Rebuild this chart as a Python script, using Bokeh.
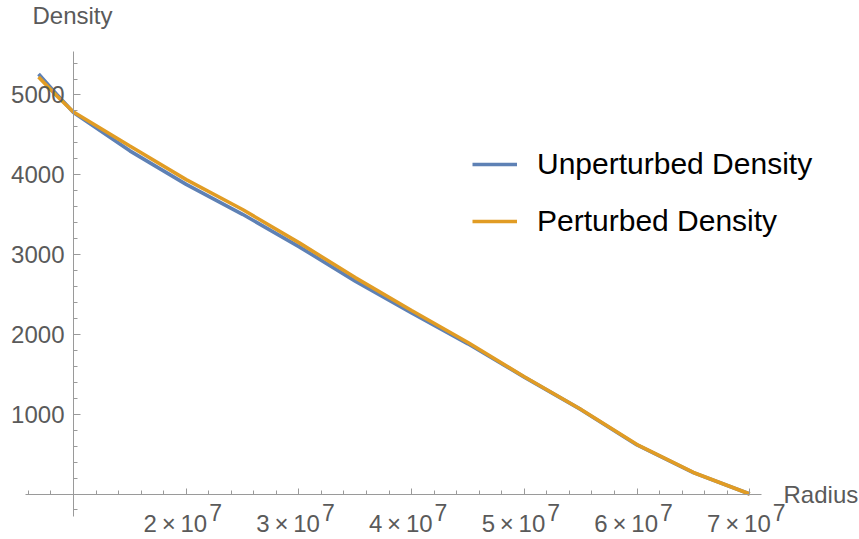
from bokeh.plotting import figure
from bokeh.models import FixedTicker, Legend, LegendItem, Label, Range1d
from bokeh.embed import file_html
from bokeh.resources import INLINE
import numpy as np

# ---- data ----
radius = [0.69e7, 0.85e7, 1.0e7, 1.5e7, 2.0e7, 2.5e7, 3.0e7, 3.5e7, 4.0e7,
          4.5e7, 5.0e7, 5.5e7, 6.0e7, 6.5e7, 7.0e7]
unperturbed = [5263, 5010, 4780, 4300, 3880, 3505, 3100, 2668, 2268,
               1882, 1465, 1060, 615, 268, 0]
perturbed = [5226, 4990, 4787, 4360, 3940, 3565, 3150, 2712, 2300,
             1898, 1470, 1062, 620, 270, 0]

x_major = [2e7, 3e7, 4e7, 5e7, 6e7, 7e7]
x_tick_base = ["2\u2009×\u200910", "3\u2009×\u200910", "4\u2009×\u200910",
               "5\u2009×\u200910", "6\u2009×\u200910", "7\u2009×\u200910"]
x_tick_exp = ["7", "7", "7", "7", "7", "7"]
y_major = [1000, 2000, 3000, 4000, 5000]
y_tick_labels = ["1000", "2000", "3000", "4000", "5000"]

BLUE = "#5E81B5"
ORANGE = "#E19C24"
AXIS = "#9a9a9a"
TICKTXT = "#5a5a5a"
FONT = "Liberation Sans"

p = figure(width=859, height=539, output_backend="svg", toolbar_location=None,
           x_range=Range1d(0.3523e7, 7.974e7), y_range=Range1d(-570, 6184),
           min_border_left=0, min_border_top=0, min_border_right=0,
           min_border_bottom=0)
p.outline_line_color = None
p.xgrid.visible = False
p.ygrid.visible = False
p.background_fill_color = "white"
p.border_fill_color = "white"

r1 = p.line(radius, unperturbed, line_color=BLUE, line_width=3.6)
r2 = p.line(radius, perturbed, line_color=ORANGE, line_width=3.6)

# axes crossing at (1e7, 0)
xa = p.xaxis[0]
xa.fixed_location = 0
xa.bounds = (0.5752e7, 7.106e7)
xa.ticker = FixedTicker(ticks=x_major + [1e7],
                        minor_ticks=list(np.round(np.arange(0.6e7, 7.01e7, 0.2e7), -4)))
xa.major_label_text_font_size = "0px"
xa.major_label_text_alpha = 0
xa.axis_line_color = AXIS
xa.major_tick_line_color = AXIS
xa.minor_tick_line_color = AXIS
xa.major_tick_in = 6
xa.major_tick_out = 0
xa.minor_tick_in = 4
xa.minor_tick_out = 0

ya = p.yaxis[0]
ya.fixed_location = 1e7
ya.bounds = (-276, 5551)
ya.ticker = FixedTicker(ticks=y_major,
                        minor_ticks=list(range(-200, 5500, 200)))
ya.major_label_overrides = {v: s for v, s in zip(y_major, y_tick_labels)}
ya.major_label_text_font = FONT
ya.major_label_text_font_size = "24px"
ya.major_label_text_color = TICKTXT
ya.major_label_standoff = 9
ya.axis_line_color = AXIS
ya.major_tick_line_color = AXIS
ya.minor_tick_line_color = AXIS
ya.major_tick_in = 7
ya.major_tick_out = 0
ya.minor_tick_in = 4
ya.minor_tick_out = 0

# x tick labels with superscript exponent
for v, b, e in zip(x_major, x_tick_base, x_tick_exp):
    p.add_layout(Label(x=v, y=0, text=b, text_align="right",
                       text_baseline="alphabetic", x_offset=21, y_offset=-29,
                       text_font=FONT, text_font_size="24px",
                       text_color=TICKTXT))
    p.add_layout(Label(x=v, y=0, text=e, text_align="left",
                       text_baseline="alphabetic", x_offset=23, y_offset=-18,
                       text_font=FONT, text_font_size="23px",
                       text_color=TICKTXT))

# axis titles
p.add_layout(Label(x=0.636e7, y=5990, text="Density", text_align="left",
                   text_baseline="alphabetic", text_font=FONT,
                   text_font_size="24px", text_color=TICKTXT))
p.add_layout(Label(x=7.30e7, y=-10, text="Radius", text_align="left",
                   text_baseline="middle", text_font=FONT,
                   text_font_size="24px", text_color=TICKTXT))

legend = Legend(items=[LegendItem(label="Unperturbed Density", renderers=[r1]),
                       LegendItem(label="Perturbed Density", renderers=[r2])],
                location=(472, 300), border_line_color=None,
                background_fill_alpha=0, padding=0, margin=0, spacing=21,
                glyph_width=45, glyph_height=36, label_height=36,
                label_standoff=20, label_text_font=FONT,
                label_text_font_size="30px", label_text_color="black")
p.add_layout(legend)

open("out.html", "w").write(file_html(p, INLINE))
